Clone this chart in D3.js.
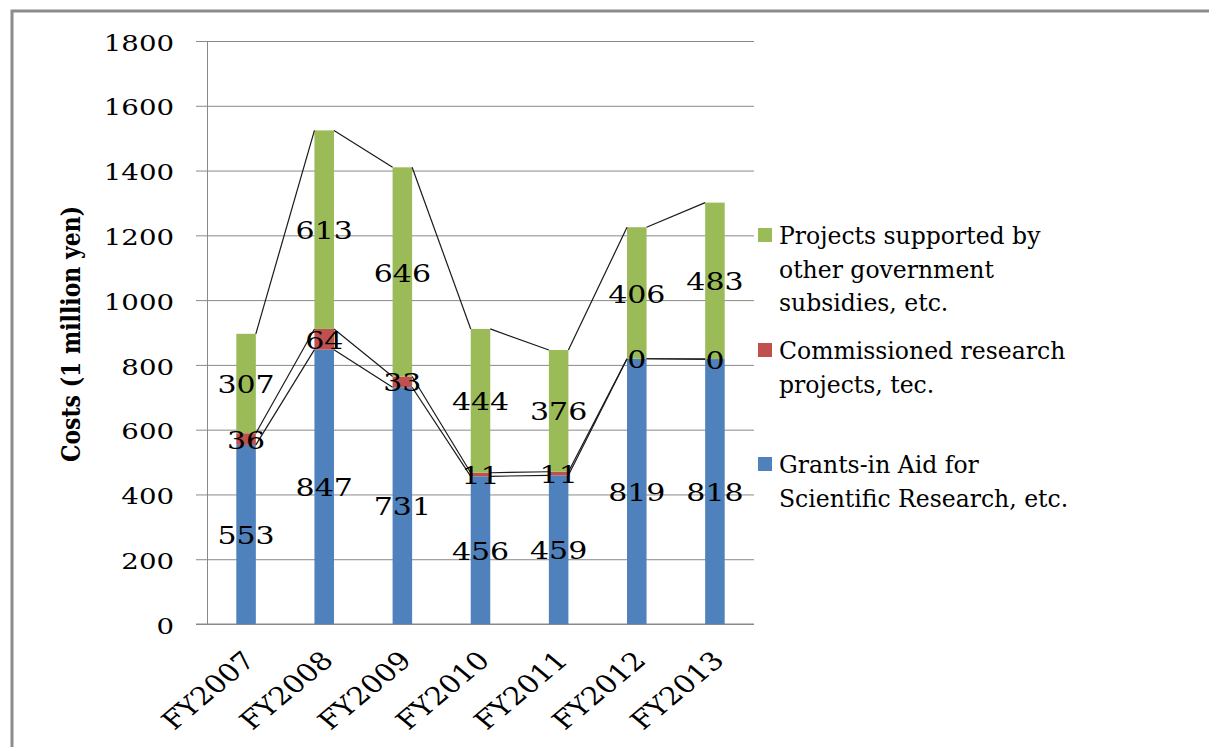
<!DOCTYPE html>
<html>
<head>
    <meta charset="utf-8">
    <title>Costs by funding source</title>
    <script type="text/javascript" src="https://cdn.jsdelivr.net/npm/d3@7/dist/d3.min.js"></script>
    <style type="text/css">
        html, body {
            margin: 0;
            background: #fff;
        }
        svg {
            display: block;
            font-family: "DejaVu Serif", serif;
        }
    </style>
</head>
<body>
<script type="text/javascript">
    var years = ["FY2007", "FY2008", "FY2009", "FY2010", "FY2011", "FY2012", "FY2013"];
    var grants = [553, 847, 731, 456, 459, 819, 818];
    var commissioned = [36, 64, 33, 11, 11, 0, 0];
    var subsidies = [307, 613, 646, 444, 376, 406, 483];
    var yTicks = [0, 200, 400, 600, 800, 1000, 1200, 1400, 1600, 1800];

    var seriesNames = [
        ["Grants-in Aid for", "Scientific Research, etc."],
        ["Commissioned research", "projects, tec."],
        ["Projects supported by", "other government", "subsidies, etc."]
    ];
    var colors = ["#4f81bd", "#c0504d", "#9bbb59"];

    var width = 1209, height = 747;
    var plotL = 207, plotR = 754, plotT = 41, plotB = 624;
    var sx = 1.2; // the picture is a little wider than tall

    var svg = d3.select("body").append("svg")
        .attr("width", width)
        .attr("height", height);

    // frame (only top and left edges are visible)
    svg.append("path")
        .attr("d", "M12," + height + "L12,11L" + width + ",11")
        .attr("fill", "none")
        .attr("stroke", "#8c8c8c")
        .attr("stroke-width", 3);

    var x = d3.scaleBand()
        .domain(years)
        .range([plotL, plotR])
        .paddingInner(0.75)
        .paddingOuter(0.375);

    var y = d3.scaleLinear()
        .domain([0, 1800])
        .range([plotB, plotT]);

    // y axis + gridlines
    var yAxis = svg.append("g")
        .attr("transform", "translate(" + plotL + ",0)")
        .call(d3.axisLeft(y).tickValues(yTicks).tickFormat(d3.format("d"))
            .tickSizeInner(-(plotR - plotL)).tickSizeOuter(0).tickPadding(33));
    yAxis.select(".domain").attr("stroke", "#898989");
    yAxis.selectAll(".tick line")
        .attr("x1", -11)
        .attr("stroke", "#898989");
    yAxis.selectAll(".tick text")
        .attr("x", null)
        .attr("dy", null)
        .attr("dominant-baseline", "central")
        .attr("transform", "translate(-33,1) scale(" + sx + ",1)")
        .attr("fill", "#000")
        .style("font-family", "DejaVu Serif")
        .style("font-size", "23px");

    // x axis
    var xAxis = svg.append("g")
        .attr("transform", "translate(0," + plotB + ")")
        .call(d3.axisBottom(x).tickSize(0).tickPadding(0));
    xAxis.select(".domain").remove();
    xAxis.append("line")
        .attr("x1", plotL - 11).attr("x2", plotR)
        .attr("stroke", "#898989");
    xAxis.selectAll(".tick text")
        .attr("y", null)
        .attr("dy", null)
        .attr("text-anchor", "end")
        .attr("transform", "translate(" + (x.bandwidth() / 2 + 1) + ",38) scale(" + sx + ",1) rotate(-45)")
        .attr("fill", "#000")
        .style("font-family", "DejaVu Serif")
        .style("font-size", "25px");

    // stacking
    var rows = years.map(function (yr, i) {
        return {year: yr, g: grants[i], c: commissioned[i], s: subsidies[i]};
    });
    var stacked = d3.stack().keys(["g", "c", "s"])(rows);

    var layers = svg.selectAll(".layer")
        .data(stacked)
        .enter().append("g")
        .attr("class", "layer")
        .attr("fill", function (d, i) { return colors[i]; });

    layers.selectAll("rect")
        .data(function (d) { return d; })
        .enter().append("rect")
        .attr("x", function (d) { return x(d.data.year); })
        .attr("y", function (d) { return y(d[1]); })
        .attr("width", x.bandwidth())
        .attr("height", function (d) { return y(d[0]) - y(d[1]); });

    // series lines between bars
    stacked.forEach(function (layer) {
        for (var i = 0; i < layer.length - 1; i++) {
            svg.append("line")
                .attr("x1", x(years[i]) + x.bandwidth())
                .attr("y1", y(layer[i][1]))
                .attr("x2", x(years[i + 1]))
                .attr("y2", y(layer[i + 1][1]))
                .attr("stroke", "#1a1a1a")
                .attr("stroke-width", 1.2);
        }
    });

    // data labels
    stacked.forEach(function (layer) {
        layer.forEach(function (d) {
            var cx = x(d.data.year) + x.bandwidth() / 2,
                cy = y((d[0] + d[1]) / 2);
            svg.append("text")
                .attr("transform", "translate(" + cx + "," + (cy + 1) + ") scale(" + sx + ",1)")
                .attr("text-anchor", "middle")
                .attr("dominant-baseline", "central")
                .style("font-size", "25px")
                .text(d[1] - d[0]);
        });
    });

    // y axis title
    svg.append("text")
        .attr("transform", "translate(80,334) scale(" + sx + ",1) rotate(-90)")
        .attr("text-anchor", "middle")
        .style("font-weight", "bold")
        .style("font-size", "22px")
        .text("Costs (1 million yen)");

    // legend, top entry is the top of the stack
    var legendTops = [457, 343, 228];
    seriesNames.forEach(function (lines, i) {
        var g = svg.append("g").attr("transform", "translate(758," + legendTops[i] + ")");
        g.append("rect")
            .attr("width", 14).attr("height", 14)
            .attr("fill", colors[i]);
        lines.forEach(function (t, j) {
            g.append("text")
                .attr("transform", "translate(21," + (16 + j * 33.5) + ") scale(0.96,1)")
                .style("font-size", "24.5px")
                .text(t);
        });
    });
</script>
</body>
</html>
